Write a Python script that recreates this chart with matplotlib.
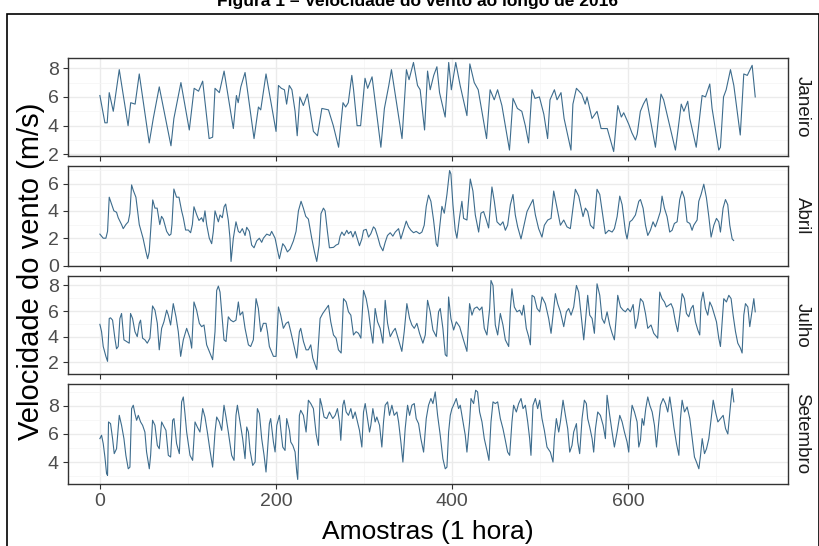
import matplotlib
matplotlib.use('Agg')
import matplotlib.pyplot as plt
from matplotlib.patches import Rectangle
from matplotlib.ticker import MultipleLocator

plt.rcParams['font.family'] = ['Liberation Sans', 'DejaVu Sans']

# ---------------- data (hour index, wind speed m/s) ----------------
jan_h = [0, 5.7, 8.3, 10.6, 15.2, 22, 32, 35, 40, 44.7, 56, 60.6, 67.4, 80.7, 84, 92, 101.5, 107, 112, 116.7,
         124, 128, 130.7, 135.6, 141, 151.5, 155, 157, 160, 164.8, 175, 180, 182.6, 188.6, 200, 202.7, 206,
         209.5, 212, 215, 218, 221.6, 224, 227, 231, 235.6, 242.4, 247, 252, 259.5, 265, 271,
         276, 279, 282, 286, 288, 292, 296, 301, 304, 309, 319, 323, 328, 331, 343, 348, 351, 356, 360.6,
         363.6, 368.6, 372, 375, 379, 382.6, 385.6, 392, 396, 399, 404, 409, 416.7, 420, 425, 429.5, 439,
         443, 447.7, 451.5, 456.4, 465, 469, 474, 479, 483, 486.7, 490.5, 494, 499, 504, 508.3, 511, 516,
         519, 523.5, 527, 534.8, 537, 541, 547, 551, 553, 558.7, 564.4, 569, 576, 583.3, 588, 592, 594.7,
         600.4, 604, 608, 610, 613.6,
         617, 620.5, 630.7, 637, 640, 653.4, 658, 660, 663, 667.4, 669.7, 677, 683.7, 687.5, 692.4, 695,
         702.6, 704.5, 708, 711, 715.9, 719.7, 723.5, 727, 731, 735, 740.5, 742.4, 744]
jan_v = [6.1, 4.2, 4.2, 6.3, 5.0, 7.9, 4.0, 5.6, 5.5, 7.6, 2.8, 4.5, 6.7, 2.6, 4.5, 7.0, 3.7, 6.6, 6.4, 7.1,
         3.1, 3.2, 6.6, 6.3, 7.8, 3.8, 6.1, 5.6, 6.7, 7.7, 3.1, 5.3, 5.1, 7.6, 3.6, 6.8, 6.6,
         6.5, 5.5, 6.8, 6.5, 5.0, 3.3, 6.0, 5.4, 6.2, 3.6, 3.3, 5.2, 5.1, 4.0, 2.5,
         5.6, 5.3, 5.6, 7.5, 6.5, 4.0, 4.0, 7.3, 6.6, 7.4, 2.5, 5.2, 6.8, 7.9, 3.1, 7.9, 7.2, 8.4, 6.8,
         6.5, 3.7, 7.8, 6.5, 7.5, 8.1, 6.3, 4.6, 8.4, 6.5, 8.4, 6.8, 4.7, 8.3, 7.0, 6.5, 3.1,
         6.5, 5.8, 6.5, 5.4, 2.3, 5.9, 5.2, 5.0, 4.0, 2.8, 6.5, 5.9, 6.0, 4.8, 3.1, 5.8, 6.5,
         5.8, 6.3, 4.5, 2.3, 5.5, 6.6, 6.2, 5.5, 6.0, 4.5, 5.0, 3.8, 3.8, 2.2, 5.4, 4.6, 4.9,
         4.1, 3.5, 3.0, 3.4, 5.0,
         5.5, 5.9, 2.5, 6.2, 5.8, 2.3, 4.5, 5.5, 5.0, 5.7, 4.5, 2.5, 6.1, 6.0, 6.9, 5.2,
         2.3, 2.5, 6.0, 6.5, 7.9, 6.8, 5.0, 3.35, 7.6, 7.5, 8.2, 7.0, 6.0]

abr_h = [0, 3.8, 6.8, 8.7, 10.6, 13.3, 15.9, 18.9, 20.8, 24.6, 26.5, 29.5, 32.2, 34, 36, 37.9, 40.9, 44.7,
         49, 52.3, 54.2, 56, 60, 62.5, 65, 68, 70, 72, 75.8, 78.8, 80.7, 81.8, 84, 87, 89.8, 92.8, 94.7,
         97.3, 100.4, 103, 105, 106.8, 110, 112.5, 115.5, 117.4, 119.3, 121.2, 124.2, 126.9, 128.8, 130.7,
         134.5, 136.4, 139, 141, 142.8, 145.8, 147.7, 148.9, 151.5, 154.5, 157.2, 159, 161.7, 164.8, 166.7,
         169.7, 172.3, 175, 178, 181, 183.7, 185.6, 189.4, 193, 195, 198.9, 202.7, 203.8, 207.6, 210,
         212.9, 215.9, 219.7, 222.7, 225.4, 228.4, 231, 233.7, 236.7, 240.5, 243.6, 246.2, 248.9, 251,
         253.8, 255.7, 258.3, 260.6,
         265.2, 268.2, 270.9, 272.7, 274.7, 277.3, 280.3, 282.2, 284.9, 287.2, 289.8, 291.7, 294.7, 297.4,
         299.3, 302.3, 305, 307.6, 310.6, 312.5, 315.2, 318.2, 321.3, 323.9, 326.5, 329.6, 332.6, 335.3,
         339.1, 341.7, 344.7, 347.8, 350.4, 353.1, 356.1, 359.1, 362.9, 365.6, 368.2, 370.5, 373.1, 375.8,
         378.8, 381.9, 383.4, 385.6, 388.3, 391, 394, 397, 398.5, 400.8, 403.4, 405.3, 408.4, 411, 412.9,
         416.7, 420.5, 423.5, 426.2, 430, 432.6, 435.6, 438.7, 441.3, 445.1, 447.8, 450.8, 454.6, 457.6,
         460.3, 462.9, 466, 469, 471.6, 474.3, 478.1, 481.1, 484.9, 488.7, 491.7, 494.4, 498.1, 501.9,
         504.6, 508.4, 512.2, 515.2, 519, 522.8, 526.6, 530.3, 534.1, 539.8, 543.6, 548.5, 551.2, 553.8,
         556.9, 560.6, 564.4, 567.5, 572, 573.9, 577.7, 581.5, 584.1, 587.2, 590.2, 592.9, 596.7, 598.5,
         601.6, 604.2, 608, 611.8, 613.7, 616.7, 619.4, 622,
         625, 628, 630.6, 633.3, 636.3, 638.2, 640.9, 643.9, 646.9, 649.6, 652.2, 655.3, 658.3, 660.9,
         663.6, 666.6, 669.7, 672.3, 674.2, 678, 679.9, 682.5, 685.6, 688.6, 691.3, 693.9, 697, 700,
         702.6, 704.5, 707.5, 710.2, 712.8, 715.1, 717.8, 719.5]
abr_v = [2.3, 2.0, 2.0, 2.5, 5.0, 4.5, 4.0, 3.9, 3.5, 3.0, 2.7, 3.0, 3.2, 3.8, 5.9, 5.5, 5.0, 3.0,
         2.0, 1.0, 0.5, 1.0, 4.8, 4.2, 4.2, 3.0, 3.6, 3.4, 2.5, 2.2, 2.3, 3.0, 5.6, 5.0, 5.0, 4.0, 3.5,
         2.6, 2.6, 2.4, 3.0, 4.3, 3.7, 3.3, 3.5, 3.2, 4.0, 3.0, 2.0, 1.6, 2.5, 4.0,
         3.2, 3.7, 3.5, 4.3, 4.5, 3.3, 2.0, 0.3, 2.0, 3.2, 2.5, 2.4, 2.7, 2.2, 2.8,
         2.5, 1.5, 1.3, 1.8, 2.0, 1.7, 2.0, 2.3, 2.2, 2.5, 2.0, 0.8, 0.5, 1.6, 1.4,
         1.0, 1.2, 1.8, 2.5, 4.0, 4.7, 4.2, 3.6, 3.4, 2.0, 1.0, 0.3, 1.5, 3.8,
         4.2, 4.0, 2.5, 1.3,
         1.33, 1.50, 1.58, 2.15, 2.45, 2.20, 2.58, 2.33, 2.50, 2.08, 2.50, 2.08, 1.45, 1.95,
         2.58, 2.65, 2.08, 2.33, 2.83, 2.70, 2.15, 1.45, 1.08, 1.70, 2.20, 2.40, 2.15, 2.45,
         2.70, 1.95, 2.58, 3.25, 2.83, 2.58, 2.40, 2.50, 2.33, 2.45, 2.95, 4.33, 5.15, 4.70,
         3.33, 1.58, 1.40, 2.70, 4.33, 3.83, 5.20, 6.95, 6.70, 4.45, 2.58, 2.00, 3.58, 4.70, 3.45,
         3.33, 6.33, 5.45, 3.70, 2.45, 3.83, 3.95, 3.33, 2.75, 5.75, 4.70, 3.20, 2.95, 3.20,
         2.58, 2.95, 4.45, 5.20, 3.70, 2.83, 1.95, 2.83, 3.95, 4.45, 4.83, 3.70, 2.70, 2.08,
         2.95, 3.33, 3.45, 5.45, 4.20, 2.95, 3.33, 2.83, 2.70, 5.58, 5.08, 3.58, 4.20, 3.95,
         2.95, 2.70, 5.58, 5.20, 3.20, 2.33, 2.58, 2.45, 2.70, 3.58, 5.08, 4.45, 2.45, 1.95,
         3.20, 3.33, 3.70, 4.70, 4.83, 4.20, 2.95, 2.20,
         2.58, 3.2, 2.83, 3.33, 3.95, 5.08, 4.2, 3.58, 2.45, 2.58, 3.08, 3.2, 4.83, 5.45,
         4.95, 3.2, 3.08, 2.58, 2.95, 3.33, 4.70, 5.2, 5.95, 4.95, 3.58, 2.08, 2.95, 3.45,
         3.2, 2.45, 4.2, 4.83, 4.45, 2.95, 1.95, 1.83]

jul_h = [0, 1.9, 3.8, 6.8, 8.7, 10.6, 12.1, 14.4, 17, 18.9, 20.8, 22.7, 24.6, 27.3, 30.3, 33.3, 34.8, 37.1,
         39.8, 42.4, 44.7, 46.2, 48.5, 51.1, 53.8, 56.8, 59.8, 62.5, 65.2, 67.4, 70.1, 72.7, 75.8, 77.7,
         80.3, 83.3, 86.4, 89, 91.7, 94.7, 98.5, 102.3, 104.2, 106.8, 109.8, 112.9, 115.5, 118.2, 121.2,
         125, 128, 130.7, 132.6, 134.5, 136.4, 138.3, 140.9, 143.2, 145.8, 148.5, 151.5, 154.5, 157.2,
         159.1, 162.1, 164.8, 168.6, 171.2, 174.2, 177.3, 179.9, 182.6, 185.6, 188.6, 190.2, 192.4, 197,
         200, 202.7, 205.3, 208.3, 211.4, 214, 216.7, 219.7, 223.5, 226.5, 228, 231.1, 234.1, 236.7,
         239.4, 241.7, 244.3, 246.2, 250, 253, 255.7, 259.5, 262.1, 265.2, 268.2, 270.8,
         273.9, 276.6, 279.6, 282.2, 284.9, 287.9, 290.9, 293.6, 296.3, 299.3, 302.3, 305, 307.6, 309.9,
         312.5, 315.2, 318.2, 321.3, 323.9, 326.6, 329.6, 332.6, 335.3, 339.1, 342.8, 345.5, 348.5, 351.6,
         354.2, 356.9, 359.9, 362.9, 366.7, 369.4, 372, 375, 378.1, 381.9, 384.5, 386.4, 389.4, 392.1,
         394, 395.9, 398.5, 401.6, 404.6, 408.4, 412.2, 416.7, 419.7, 422.4, 425, 428.1, 431.1, 433.8,
         436.4, 439.4, 442.5, 444, 446.3, 448.9, 451.6, 454.6, 457.6, 460.3, 464.1, 466, 467.8, 470.5,
         473.5, 476.6, 479.2, 481.1, 484.1, 486.8, 488.7, 490.6, 493.2, 496.3, 499.3, 501.9, 505.7, 509.5,
         512.2, 514.4, 517.1, 519.7, 522.8, 526.6, 529.6, 532.2, 534.9, 537.9, 541, 543.6, 546.3, 549.3,
         551.2, 553.8, 556.1, 558.8, 561.4, 564.4, 567.5, 570.1, 572.8, 575.8, 578.8, 581.5, 584.1, 586.4,
         587.9, 591, 594, 596.6, 599.3, 602.3, 605.4, 608, 610.7, 613.7, 616.7, 619.4, 622,
         625.7, 628.8, 631.8, 633.3, 635.6, 638.2, 640.9, 643.1, 645.8, 648.4, 650.7, 653.4, 656, 658.3,
         661, 663.6, 665.9, 668.5, 671.2, 673.5, 676.1, 678.8, 681, 682.5, 684.8, 687.5, 690.1, 692.4,
         695, 697.7, 700, 702.6, 704.5, 706.4, 708.3, 711.3, 714, 716.6, 718.9, 721.6, 724.2, 727.2,
         729.1, 731, 732.9, 735.6, 737.8, 740.5, 742.4, 744]
jul_v = [4.96, 4.39, 3.23, 2.46, 2.07, 5.42, 5.47, 5.29, 3.88, 3.05, 3.23, 5.42, 5.81, 3.75, 3.62, 3.49, 5.81, 5.42,
         4.39, 4.0, 5.04, 5.29, 3.88, 3.75, 3.49, 3.88, 6.4, 6.07, 5.04, 2.97, 4.65, 5.16, 6.07, 5.68,
         4.91, 6.58, 5.55, 4.39, 2.46, 3.75, 4.65, 3.88, 3.1, 6.71, 6.07, 5.04, 4.78, 4.91, 3.36,
         2.72, 2.2, 4.39, 7.61, 7.95, 7.48, 5.94, 3.75, 3.62, 5.55, 5.29, 5.16, 5.29, 6.71,
         5.68, 5.94, 4.65, 3.36, 3.23, 3.75, 6.97, 6.2, 4.39, 5.04, 5.04, 4.39, 3.23, 2.46,
         2.46, 6.32, 5.68, 4.65, 5.04, 5.16, 4.39, 3.49, 2.33, 4.39, 4.65, 3.62, 2.97, 2.97,
         3.36, 2.33, 1.81, 1.43, 5.42, 5.81, 6.07, 6.45, 5.16, 4.13, 3.88, 2.97,
         2.72, 6.97, 6.71, 5.94, 5.68, 4.13, 4.39, 4.26, 3.88, 7.61, 6.97, 5.94, 4.52, 3.49,
         6.2, 5.16, 4.65, 3.49, 6.84, 5.04, 4.0, 4.39, 4.65, 3.75, 2.85, 4.39, 6.58, 5.42,
         4.91, 4.65, 5.04, 4.26, 3.49, 4.13, 6.84, 5.94, 4.52, 4.0, 5.94, 6.2, 4.65, 2.59,
         2.46, 7.1, 5.42, 4.52, 5.16, 4.78, 3.88, 2.85, 6.58, 5.68, 6.2, 6.32, 6.07, 6.32,
         4.65, 4.13, 6.2, 8.39, 8.0, 4.91, 4.13, 5.81, 4.91, 3.75, 3.23, 6.2, 7.74, 6.32,
         5.94, 6.07, 5.68, 6.45, 4.65, 4.0, 3.36, 7.23, 7.1, 6.2, 5.94, 7.1, 6.58, 5.42,
         4.26, 5.68, 7.36, 6.58, 5.94, 4.78, 5.94, 6.2, 5.68, 6.32, 8.0, 7.48, 5.68, 3.75,
         5.16, 7.23, 5.68, 5.42, 4.26, 8.13, 7.23, 5.42, 5.04, 5.94, 4.91, 4.26, 3.75, 5.68,
         7.23, 6.32, 6.07, 5.94, 6.2, 5.94, 6.51, 4.65, 5.42, 6.97, 6.71, 5.81, 4.65,
         4.91, 4.26, 4.0, 3.88, 7.48, 6.97, 6.71, 6.32, 6.45, 6.58, 6.2, 5.16, 4.39, 5.68,
         7.36, 6.97, 5.81, 5.55, 6.2, 6.45, 5.16, 4.52, 4.13, 6.71, 7.48, 6.2, 5.68, 6.71,
         6.32, 5.68, 5.16, 3.88, 3.23, 5.16, 6.97, 6.71, 7.23, 6.97, 5.68, 4.39, 3.49, 3.1,
         2.72, 5.68, 6.58, 6.32, 4.78, 6.07, 6.97, 5.94]

set_h = [0, 1.9, 3.8, 5.7, 7.6, 8.7, 9.8, 12.1, 14.4, 16.3, 18.9, 22, 24.6, 27.3, 29.5, 32.2, 34.1, 36,
         37.9, 39.8, 41.7, 43.6, 46.2, 48.5, 51.1, 53, 56.1, 57.6, 59.8, 62.5, 65.2, 67.4, 70.1, 72, 75,
         77.7, 80.3, 82.6, 84.1, 87.1, 90.2, 92.8, 94.7, 96.6, 98.5, 102.3, 105.3, 108, 110.6, 113.6, 116.7,
         119.3, 122, 125, 128, 130.7, 132.6, 135.6, 138.3, 140.9, 143.2, 145.8, 149.6, 152.3, 154.5, 156.1,
         159.1, 162.1, 164.8, 166.7, 168.6, 170.5, 173.5, 176.2, 178.8, 181.1, 183.7, 186.4, 188.6, 190.2,
         192.4, 193.9, 197, 198.9, 200.8, 203.8, 205.7, 207.6, 210.2, 212.1, 215.2, 216.7, 219, 221.6,
         223.5, 224.6, 226.5, 228, 231.1, 234.1, 236.7, 239.4, 242.4, 245.5, 248.1, 250, 251.9, 254.5,
         257.6, 260.6,
         264.4, 267.1, 269.7, 272, 273.5, 275.8, 277.3, 279.6, 282.2, 284.9, 287.2, 289.8, 292.5, 294.7,
         297.4, 299.3, 301.2, 303.8, 306.1, 307.6, 309.9, 312.5, 314.4, 317.5, 320.1, 322, 323.9, 326.6,
         328.8, 331.5, 334.1, 337.2, 339.1, 341.7, 344, 346.6, 349.3, 351.6, 354.2, 356.9, 359.1, 361.8,
         364.4, 367.5, 370.5, 373.1, 375.8, 378.1, 380.7, 383.4, 386.4, 389.4, 392.1, 394, 395.9, 397.8,
         399.7, 402.3, 404.6, 407.2, 409.1, 412.2, 414.8, 416.7, 419.7, 421.3, 424.3, 426.6, 428.8, 431.1,
         433.8, 436.4, 439.4, 441.7, 444, 446.3, 448.9, 451.6, 454.6, 457.6, 460.3, 462.9, 465.2, 467.8,
         469.7, 472.8, 475.4, 478.1, 480.4, 483, 485.7, 487.9, 489.4, 491.7, 494.4, 497, 499.3, 501.9,
         504.6, 507.6, 511.4, 514.4, 515.9, 518.2, 520.9, 522.8, 525.8, 528.5, 531.1, 533.4, 536, 537.9,
         541, 542.5, 544.7, 547.4, 550, 552.3, 553.8, 556.1, 558.8, 560.6, 562.6, 565.2, 568.2, 571.3,
         573.9, 575.8, 578.8, 581.5, 584.1, 587.2, 590.2, 592.9, 595.5, 598.5, 600.4, 602.3, 604.2, 606.9,
         609.9, 611.8, 613.7, 615.6, 617.5, 619.7, 622, 624.3, 627, 629.6, 631.9, 634.5, 636.4, 639.4,
         642.1, 644.7, 647, 649.7, 651.6, 654.6, 657.3, 659.1, 661, 663.7, 666.7, 669.7, 672.4, 675,
         677.3, 680, 681.9, 683.8, 686.4, 688.7, 691.3, 694, 696.3, 698.9, 701.6, 704.6, 707.6, 710.3,
         712.9, 715.2, 717.8, 719.7]
set_v = [5.67, 5.91, 5.31, 4.36, 3.17, 3.05, 6.86, 6.74, 5.67, 4.6, 4.95, 7.33, 6.62, 5.67, 4.48, 3.52, 3.64, 7.81,
         8.05, 7.45, 6.98, 7.33, 6.86, 6.62, 6.14, 4.72, 3.52, 4.48, 6.98, 6.62, 5.19, 4.95, 6.86, 6.62, 6.26,
         4.48, 4.36, 6.98, 7.1, 5.31, 4.6, 8.29, 8.64, 7.45, 6.14, 4.48, 4.12, 6.86, 6.5, 6.14, 7.81,
         7.21, 6.14, 4.83, 3.64, 6.14, 7.21, 6.86, 6.26, 8.05, 7.21, 6.14, 4.48, 4.12, 7.33, 8.05,
         6.86, 5.67, 4.24, 6.5, 6.14, 4.83, 3.76, 4.0, 7.81, 7.45, 5.67, 4.48, 3.29, 4.72,
         6.74, 7.1, 5.43, 4.72, 6.62, 7.33, 6.14, 5.07, 4.83, 7.1, 6.26, 5.43, 5.19, 4.72,
         3.29, 2.76, 7.33, 7.69, 7.33, 6.14, 8.41, 8.17, 7.81, 6.0, 5.19, 8.53, 8.05, 7.21,
         7.1, 7.57,
         7.1, 7.33, 7.81, 6.86, 5.55, 8.05, 8.41, 7.57, 7.33, 7.81, 7.1, 7.57, 6.86, 6.26,
         5.07, 7.57, 8.17, 7.1, 6.14, 6.62, 7.81, 6.86, 7.21, 6.62, 5.07, 6.86, 8.05, 8.29,
         7.33, 8.05, 7.33, 7.57, 6.86, 5.43, 4.0, 6.38, 8.05, 7.33, 8.05, 8.17, 7.1, 6.74,
         5.67, 4.71, 7.1, 8.05, 8.53, 8.17, 9.0, 7.33, 5.91, 4.24, 3.52, 3.64, 6.14, 7.33,
         7.81, 8.17, 8.53, 7.81, 8.05, 6.86, 5.91, 4.71, 6.86, 8.53, 8.17, 9.12, 9.0, 7.57,
         6.86, 5.67, 4.83, 4.12, 6.86, 8.29, 8.17, 8.29, 7.1, 6.38, 5.55, 4.71, 4.48, 6.86,
         8.05, 7.57, 8.17, 8.53, 7.81, 8.05, 6.86, 5.67, 4.48, 8.05, 8.53, 7.81, 8.41, 7.1,
         6.26, 5.07, 4.71, 4.0, 5.67, 7.1, 6.14, 6.86, 8.41, 7.33, 6.38, 4.71, 5.19, 6.14,
         6.74, 5.43, 4.6, 7.1, 8.41, 8.17, 7.1, 6.5, 5.67, 4.71, 6.38, 7.57, 7.33, 6.62,
         5.67, 8.76, 7.33, 6.14, 5.07, 6.14, 7.33, 6.86, 6.14, 5.43, 4.71, 6.86, 8.05, 7.57,
         6.86, 5.07, 5.55, 7.1, 6.62, 7.81, 8.64, 8.05, 7.57, 6.62, 5.07, 6.86, 8.05, 8.53,
         8.17, 7.57, 8.64, 7.45, 6.5, 5.31, 4.48, 7.1, 8.41, 7.57, 7.93, 7.1, 5.67, 4.36,
         4.0, 3.52, 4.48, 5.67, 4.6, 4.95, 5.67, 7.1, 8.41, 7.57, 6.86, 7.1, 7.33, 6.38,
         6.0, 7.57, 9.24, 8.29]

months = ['Janeiro', 'Abril', 'Julho', 'Setembro']
series = [(jan_h, jan_v), (abr_h, abr_v), (jul_h, jul_v), (set_h, set_v)]
x_ticks = [0, 200, 400, 600]

# ---------------- layout ----------------
W, H = 820, 546
fig = plt.figure(figsize=(W / 100, H / 100), dpi=100)
panels_px = [(58, 156), (166, 266), (276, 374), (384, 484)]
left, right = 68, 788

fig.text(418 / W, 1 - 6 / H, 'Figura 1 – Velocidade do vento ao longo de 2016',
         ha='center', va='baseline', fontsize=12.5, fontweight='bold', color='black')
fig.patches.append(Rectangle((7 / W, -0.05), (819 - 7) / W, 1.05 - 14 / H,
                             transform=fig.transFigure, fill=False, edgecolor='black', lw=1.2))

line_color = '#3d6c8d'
for i, (name, (hh, vv)) in enumerate(zip(months, series)):
    top, bot = panels_px[i]
    ax = fig.add_axes([left / W, 1 - bot / H, (right - left) / W, (bot - top) / H])
    ax.plot(hh, vv, color=line_color, lw=0.8)
    ax.set_xlim(-36.2, 781.2)
    ax.margins(y=0.05)
    ax.set_xticks(x_ticks)
    ax.xaxis.set_minor_locator(MultipleLocator(100))
    ax.yaxis.set_major_locator(MultipleLocator(2))
    ax.yaxis.set_minor_locator(MultipleLocator(1))
    ax.grid(which='major', color='#ebebeb', lw=1.0)
    ax.grid(which='minor', color='#f4f4f4', lw=0.5)
    ax.set_axisbelow(True)
    for s in ax.spines.values():
        s.set_color('#333333')
        s.set_linewidth(1.0)
    ax.tick_params(which='major', length=3.5, width=0.8, color='#333333',
                   labelsize=14, labelcolor='#4d4d4d', pad=3)
    ax.tick_params(which='minor', length=0)
    if i < 3:
        ax.tick_params(labelbottom=False)
    ax.text(1 + 14 / (right - left), 0.5, name, transform=ax.transAxes, rotation=-90,
            ha='center', va='center', fontsize=13.5, color='#1a1a1a')

fig.text(31 / W, 1 - 271 / H, 'Velocidade do vento (m/s)', rotation=90,
         ha='center', va='center', fontsize=21, color='black')
fig.text(428 / W, 1 - 539 / H, 'Amostras (1 hora)', ha='center', va='baseline',
         fontsize=19, color='black')

fig.savefig('out.png', dpi=100)
